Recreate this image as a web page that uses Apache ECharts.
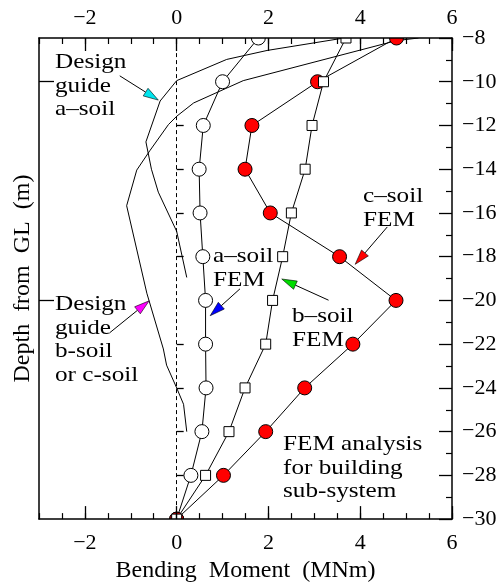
<!DOCTYPE html>
<html>
<head>
<meta charset="utf-8">
<script src="https://cdn.jsdelivr.net/npm/echarts@6/dist/echarts.min.js"></script>
<style>
  html, body { margin: 0; padding: 0; background: #fff; }
  #chart { width: 502px; height: 588px; }
</style>
</head>
<body>
<div id="chart"></div>
<script>
// Depth of each FEM output level (m, from ground level)
const depths = [-8, -10, -12, -14, -16, -18, -20, -22, -24, -26, -28, -30];

// Bending moment from FEM analysis (MNm)
const aSoilFEM = [1.78, 1.00, 0.58, 0.49, 0.51, 0.57, 0.63, 0.63, 0.64, 0.55, 0.31, 0.00];
const bSoilFEM = [3.69, 3.20, 2.95, 2.80, 2.50, 2.31, 2.09, 1.94, 1.49, 1.14, 0.63, 0.00];
const cSoilFEM = [4.79, 3.07, 1.64, 1.49, 2.04, 3.55, 4.78, 3.84, 2.79, 1.94, 1.02, 0.00];

// Design guide curves (moment, depth)
const guideAMoment = [3.65, 1.97, 1.09, 0.00, -0.36, -0.67, -0.55, -0.40, 0.00, 0.22];
const guideADepth  = [-8.00, -8.57, -8.98, -9.95, -10.88, -12.75, -14.00, -15.05, -16.84, -18.95];
const guideBCMoment = [5.27, 4.79, 1.45, 0.37, 0.00, -0.18, -0.58, -0.87, -1.09, -0.65, -0.29, -0.22, 0.00, 0.15, 0.22];
const guideBCDepth  = [-8.00, -8.12, -9.95, -10.97, -11.58, -11.96, -13.14, -14.04, -15.67, -19.67, -22.22, -22.96, -24.00, -24.75, -26.00];

// Axis ticks
const momentTicks = [-2, 0, 2, 4, 6];
const depthMajorLeft = [-10, -20];
const depthMinorLeft = [-12, -14, -16, -18, -22, -24, -26, -28];

const FONT = '"Liberation Serif", "Times New Roman", serif';
const minus = v => String(v).replace('-', '\u2212');
const pairs = (xs, ys) => xs.map((x, i) => [x, ys[i]]);

const frame = { show: true, onZero: false, lineStyle: { color: '#000', width: 1.5 } };

function momentAxis(position, withName) {
  return [
    {
      type: 'value', position, min: -3, max: 6, z: 10,
      axisLine: frame,
      axisTick: { show: true, inside: true, length: 13, customValues: momentTicks, lineStyle: { color: '#000', width: 1.3 } },
      axisLabel: { show: true, customValues: momentTicks, formatter: minus, margin: position === 'bottom' ? 13 : 9,
                   color: '#000', fontSize: 22, fontFamily: FONT },
      splitLine: { show: false },
      name: withName ? 'Bending  Moment  (MNm)' : '',
      nameLocation: 'middle', nameGap: 32,
      nameTextStyle: { color: '#000', fontSize: 24, fontFamily: FONT }
    },
    {
      type: 'value', position, min: -3, max: 6, interval: 0.5, z: 10,
      axisLine: { show: false, onZero: false },
      axisTick: { show: true, inside: true, length: 6, lineStyle: { color: '#000', width: 1.2 } },
      axisLabel: { show: false },
      splitLine: { show: false }
    }
  ];
}

const chart = echarts.init(document.getElementById('chart'), null, { renderer: 'canvas' });

const lineStyle = { color: '#000', width: 1 };

chart.setOption({
  animation: false,
  backgroundColor: '#fff',
  grid: { left: 39, right: 50, top: 38, bottom: 57, containLabel: false },
  xAxis: [...momentAxis('bottom', true), ...momentAxis('top', false)],
  yAxis: [
    {
      type: 'value', position: 'right', min: -30, max: -8, interval: 2, z: 10,
      axisLine: frame,
      axisTick: { show: true, inside: true, length: 13, lineStyle: { color: '#000', width: 1.3 } },
      minorTick: { show: true, splitNumber: 2, length: 6, lineStyle: { color: '#000', width: 1.2 } },
      axisLabel: { show: true, formatter: minus, margin: 10, color: '#000', fontSize: 22, fontFamily: FONT },
      splitLine: { show: false }, minorSplitLine: { show: false }
    },
    {
      type: 'value', position: 'left', min: -30, max: -8, z: 10,
      axisLine: frame,
      axisTick: { show: true, inside: true, length: 15, customValues: depthMajorLeft, lineStyle: { color: '#000', width: 1.3 } },
      axisLabel: { show: false },
      splitLine: { show: false },
      name: 'Depth  from  GL  (m)',
      nameLocation: 'middle', nameGap: 4, nameRotate: 90,
      nameTextStyle: { color: '#000', fontSize: 24, fontFamily: FONT }
    },
    {
      type: 'value', position: 'left', min: -30, max: -8, z: 10,
      axisLine: { show: false },
      axisTick: { show: true, inside: true, length: 7, customValues: depthMinorLeft, lineStyle: { color: '#000', width: 1.3 } },
      axisLabel: { show: false },
      splitLine: { show: false }
    }
  ],
  series: [
    {
      name: 'Design guide a-soil', type: 'line', xAxisIndex: 0, yAxisIndex: 0,
      data: pairs(guideAMoment, guideADepth), showSymbol: false, symbol: 'none',
      lineStyle, clip: true,
      markLine: {
        silent: true, symbol: ['none', 'none'], label: { show: false },
        lineStyle: { color: '#000', width: 1, type: [4, 3] },
        data: [{ xAxis: 0 }]
      }
    },
    {
      name: 'Design guide b/c-soil', type: 'line', xAxisIndex: 0, yAxisIndex: 0,
      data: pairs(guideBCMoment, guideBCDepth), showSymbol: false, symbol: 'none',
      lineStyle, clip: true
    },
    {
      name: 'a-soil FEM', type: 'line', xAxisIndex: 0, yAxisIndex: 0,
      data: pairs(aSoilFEM, depths), symbol: 'circle', symbolSize: 14,
      itemStyle: { color: '#fff', borderColor: '#000', borderWidth: 1 },
      lineStyle, clip: false
    },
    {
      name: 'c-soil FEM', type: 'line', xAxisIndex: 0, yAxisIndex: 0,
      data: pairs(cSoilFEM, depths), symbol: 'circle', symbolSize: 14,
      itemStyle: { color: '#ff0000', borderColor: '#000', borderWidth: 1 },
      lineStyle, clip: false
    },
    {
      name: 'b-soil FEM', type: 'line', xAxisIndex: 0, yAxisIndex: 0,
      data: pairs(bSoilFEM, depths), symbol: 'rect', symbolSize: 10,
      itemStyle: { color: '#fff', borderColor: '#000', borderWidth: 1 },
      lineStyle, clip: false
    }
  ]
});

// Annotation arrows: tail and tip in (moment, depth), head colour
const arrows = [
  { from: [-1.24, -9.73],  to: [-0.40, -10.84], color: '#00e5ee' },
  { from: [-1.46, -21.48], to: [-0.60, -20.02], color: '#ff00ff' },
  { from: [1.38, -19.47],  to: [0.73, -20.70],  color: '#0000ff' },
  { from: [3.31, -19.99],  to: [2.29, -19.02],  color: '#00dd00' },
  { from: [4.59, -16.64],  to: [3.89, -18.35],  color: '#ff0000' }
];

// Annotation texts
const notes = [
  { text: 'Design\nguide\na\u2013soil', x: 55, y: 51 },
  { text: 'Design\nguide\nb-soil\nor c-soil', x: 55, y: 293 },
  { text: 'a\u2013soil\nFEM', x: 213, y: 245 },
  { text: 'b\u2013soil\nFEM', x: 292, y: 305 },
  { text: 'c\u2013soil\nFEM', x: 363, y: 185 },
  { text: 'FEM analysis\nfor building\nsub-system', x: 283, y: 433 }
];

const gridRect = chart.getModel().getComponent('grid').coordinateSystem.getRect();
const W = chart.getWidth(), H = chart.getHeight();
const graphics = [];

// white bands outside the plot frame so markers sitting on the frame are cut off
graphics.push({ type: 'rect', z: 5, silent: true, shape: { x: 0, y: 0, width: W, height: gridRect.y }, style: { fill: '#fff' } });
graphics.push({ type: 'rect', z: 5, silent: true,
  shape: { x: 0, y: gridRect.y + gridRect.height, width: W, height: H - gridRect.y - gridRect.height }, style: { fill: '#fff' } });

const toPx = p => chart.convertToPixel({ xAxisIndex: 0, yAxisIndex: 0 }, p);
arrows.forEach(a => {
  const s = toPx(a.from), t = toPx(a.to);
  const dx = t[0] - s[0], dy = t[1] - s[1];
  const len = Math.hypot(dx, dy);
  const ux = dx / len, uy = dy / len;
  const L = 15, w = 4.5;
  const bx = t[0] - ux * L, by = t[1] - uy * L;
  graphics.push({ type: 'line', z: 20, silent: true,
    shape: { x1: s[0], y1: s[1], x2: bx, y2: by }, style: { stroke: '#000', lineWidth: 1 } });
  graphics.push({ type: 'polygon', z: 21, silent: true,
    shape: { points: [[t[0], t[1]], [bx - uy * w, by + ux * w], [bx + uy * w, by - ux * w]] },
    style: { fill: a.color, stroke: '#000', lineWidth: 0.6 } });
});

notes.forEach(n => {
  graphics.push({ type: 'text', z: 20, silent: true, x: n.x, y: n.y, scaleX: 1.2,
    style: { text: n.text, fill: '#000', fontSize: 21, fontFamily: FONT, lineHeight: 23.5, align: 'left', verticalAlign: 'top' } });
});

chart.setOption({ graphic: graphics });
</script>
</body>
</html>
